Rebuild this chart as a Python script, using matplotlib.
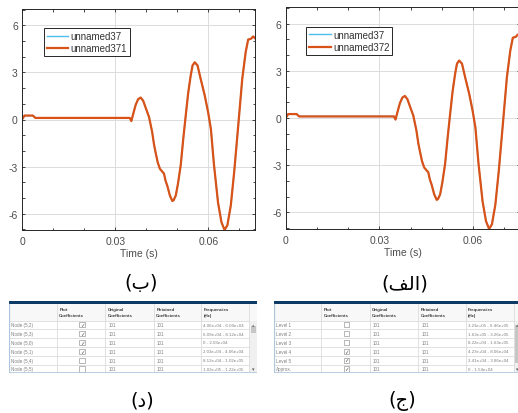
import matplotlib
matplotlib.use("Agg")
import matplotlib.pyplot as plt
from matplotlib.patches import Rectangle
from matplotlib.ticker import MultipleLocator

plt.rcParams['font.family'] = ['Liberation Sans', 'DejaVu Sans']
plt.rcParams['axes.unicode_minus'] = False

# ---------------- data ----------------
time_s = [0, 0.0008, 0.0035, 0.0043, 0.0347, 0.0352, 0.0358, 0.0366, 0.0374, 0.0382,
          0.0390, 0.0399, 0.0409, 0.0419, 0.0425, 0.0430, 0.0437, 0.0444, 0.0457, 0.0462,
          0.0468, 0.0476, 0.0484, 0.0488, 0.0495, 0.0502, 0.0511, 0.0519, 0.0527, 0.0535,
          0.0543, 0.0549, 0.0556, 0.0565, 0.0575, 0.0588, 0.0599, 0.0608, 0.0618, 0.0631,
          0.0642, 0.0652, 0.0661, 0.0672, 0.0683, 0.0696, 0.0709, 0.0720, 0.0728, 0.0737,
          0.0744, 0.0752]
signal = [0, 0.25, 0.25, 0.10, 0.10, -0.10, 0.36, 0.94, 1.30, 1.40,
          1.20, 0.70, 0.15, -0.80, -1.60, -2.10, -2.75, -3.15, -3.45, -3.90,
          -4.25, -4.85, -5.20, -5.15, -4.85, -4.10, -2.90, -1.25, 0.25, 1.70,
          2.80, 3.45, 3.65, 3.45, 2.60, 1.55, 0.47, -0.60, -2.90, -5.30,
          -6.55, -7.05, -6.75, -5.50, -3.35, -0.40, 2.60, 4.30, 5.10, 5.15,
          5.30, 5.15]

legend_left = ['unnamed37', 'unnamed371']
legend_right = ['unnamed37', 'unnamed372']
x_ticks = [0, 0.03, 0.06]
x_tick_labels = ['0', '0.03', '0.06']
y_ticks = [-6, -3, 0, 3, 6]
y_tick_labels = ['-6', '-3', '0', '3', '6']
x_label = 'Time (s)'

# Persian captions written with Arabic presentation forms in visual order
caption_b = '(\uFE8F)'                    # (ب)
caption_alef = '(\uFED2\uFEDF\uFE8D)'     # (الف)
caption_d = '(\uFEA9)'                    # (د)
caption_j = '(\uFE9D)'                    # (ج)

table_headers = ['', 'Plot\nCoefficients', 'Original\nCoefficients',
                 'Retained\nCoefficients', 'Frequencies\n(Hz)']

left_rows = ['Node (5,2)', 'Node (5,3)', 'Node (5,0)', 'Node (5,1)', 'Node (5,4)', 'Node (5,5)']
left_checked = [True, True, True, True, False, False]
left_original = ['101', '101', '101', '101', '101', '101']
left_retained = ['101', '101', '101', '101', '101', '101']
left_freq = ['4.06e+04 - 6.09e+04', '6.09e+04 - 8.12e+04', '0 - 2.03e+04',
             '2.03e+04 - 4.06e+04', '8.12e+04 - 1.02e+05', '1.02e+05 - 1.22e+05']

right_rows = ['Level 1', 'Level 2', 'Level 3', 'Level 4', 'Level 5', 'Approx.']
right_checked = [False, False, False, True, True, True]
right_original = ['101', '101', '101', '101', '101', '101']
right_retained = ['101', '101', '101', '101', '101', '101']
right_freq = ['3.23e+05 - 6.46e+05', '1.63e+05 - 3.26e+05', '8.22e+04 - 1.63e+05',
              '4.23e+04 - 8.06e+04', '2.41e+04 - 3.86e+04', '0 - 1.54e+04']

# ---------------- figure ----------------
W, H = 518, 414
fig = plt.figure(figsize=(W / 100, H / 100), dpi=100)
fig.patch.set_facecolor('white')

BLUE = '#4DBEEE'
ORANGE = '#D95319'
FRAME = '#262626'
TICKC = '#4D4D4D'


def px_rect(x0, y0, w, h):
    return [x0 / W, 1 - (y0 + h) / H, w / W, h / H]


def make_plot(rect, names, leg_anchor):
    ax = fig.add_axes(rect)
    ax.plot(time_s, signal, color=BLUE, lw=1.0, label=names[0])
    ax.plot(time_s, signal, color=ORANGE, lw=1.6, label=names[1])
    ax.set_xlim(0, 0.075)
    ax.set_ylim(-7.05, 7.05)
    ax.set_xticks(x_ticks)
    ax.set_xticklabels(x_tick_labels)
    ax.set_yticks(y_ticks)
    ax.set_yticklabels(y_tick_labels)
    ax.xaxis.set_minor_locator(MultipleLocator(0.01))
    ax.yaxis.set_minor_locator(MultipleLocator(1))
    ax.grid(True, which='major', color='#DCDCDC', lw=0.7)
    ax.set_axisbelow(True)
    ax.tick_params(which='both', direction='in', top=True, right=True,
                   colors=FRAME, labelcolor=TICKC, labelsize=7.5, width=0.6)
    ax.tick_params(which='major', length=2.5)
    ax.tick_params(which='minor', length=1.8)
    ax.tick_params(axis='x', pad=4)
    ax.tick_params(axis='y', pad=3)
    for s in ax.spines.values():
        s.set_color(FRAME)
        s.set_linewidth(0.7)
    ax.set_xlabel(x_label, fontsize=7.5, color=TICKC, labelpad=1.5)
    leg = ax.legend(loc='upper left', bbox_to_anchor=leg_anchor, fontsize=7,
                    frameon=True, fancybox=False, framealpha=1, edgecolor=FRAME,
                    handlelength=2.2, handletextpad=0.25, borderpad=0.3,
                    labelspacing=0.25, borderaxespad=0)
    leg.get_frame().set_linewidth(0.7)
    for t in leg.get_texts():
        t.set_color('#333333')
    return ax


make_plot(px_rect(22, 10, 233, 221), legend_left, (0.095, 0.914))
make_plot(px_rect(285.7, 8, 234, 222), legend_right, (0.088, 0.91))

# captions
cap_kw = dict(ha='center', va='center', fontsize=14, family=['DejaVu Sans'], color='black')
fig.text(141 / W, 1 - 284 / H, caption_b, **cap_kw)
fig.text(405 / W, 1 - 284 / H, caption_alef, **cap_kw)
fig.text(142 / W, 1 - 401 / H, caption_d, **cap_kw)
fig.text(402 / W, 1 - 401 / H, caption_j, **cap_kw)

# ---------------- tables ----------------
col_w = [47.5, 48.5, 48.5, 47.5, 48, 8]
bar_h = 2.5
head_h = 17
row_h = 8.8
GRID = '#DCDCDC'
TXT = '#808080'


def make_table(x0, y0, rows, checked, orig, ret, freq, thumb):
    total_w = sum(col_w)
    total_h = bar_h + head_h + row_h * len(rows)
    ax = fig.add_axes(px_rect(x0, y0, total_w, total_h))
    ax.set_xlim(0, total_w)
    ax.set_ylim(total_h, 0)
    ax.axis('off')
    edges = [0]
    for w in col_w:
        edges.append(edges[-1] + w)
    ax.add_patch(Rectangle((0, 0), total_w, total_h, fc='white', ec='none'))
    ax.add_patch(Rectangle((0, bar_h), total_w, head_h, fc='#F8F8F8', ec='none'))
    ax.add_patch(Rectangle((0, 0), total_w, bar_h, fc='#0E3A66', ec='none'))
    ax.add_patch(Rectangle((edges[5], bar_h + head_h), col_w[5], row_h * len(rows),
                           fc='#F0F0F0', ec='none'))
    ax.add_patch(Rectangle((edges[5] + 1.2, thumb[0]), col_w[5] - 2.4, thumb[1] - thumb[0],
                           fc='#C6C6C6', ec='none'))
    ax.text(edges[5] + col_w[5] / 2, bar_h + head_h + row_h * 0.5, '\u25B4', fontsize=3.5,
            ha='center', va='center', color='#777777', family=['DejaVu Sans'])
    ax.text(edges[5] + col_w[5] / 2, total_h - row_h * 0.5, '\u25BE', fontsize=3.5,
            ha='center', va='center', color='#555555', family=['DejaVu Sans'])
    for e in edges[1:-1]:
        ax.plot([e, e], [bar_h, total_h], color=GRID, lw=0.6)
    for i in range(len(rows) + 1):
        y = bar_h + head_h + i * row_h
        ax.plot([0, edges[5]], [y, y], color=GRID, lw=0.6)
    ax.plot([0, 0], [bar_h, total_h], color='#AFC6DE', lw=0.9)
    ax.plot([0, total_w], [total_h, total_h], color='#AFC6DE', lw=1.2)
    for j, h in enumerate(table_headers):
        if h:
            ax.text(edges[j] + 2.5, bar_h + head_h / 2, h, fontsize=3.2, fontweight='bold',
                    ha='left', va='center', color='#404040', linespacing=1.35)
    for i, name in enumerate(rows):
        yc = bar_h + head_h + (i + 0.5) * row_h
        ax.text(2, yc, name, fontsize=3.3, ha='left', va='center', color=TXT)
        cx = edges[1] + col_w[1] / 2 + 1
        ax.add_patch(Rectangle((cx - 2.6, yc - 2.6), 5.2, 5.2, fc='white', ec='#9A9A9A', lw=0.5))
        if checked[i]:
            ax.text(cx, yc, '\u2713', fontsize=4, ha='center', va='center',
                    color='#555555', family=['DejaVu Sans'])
        ax.text(edges[2] + 3, yc, orig[i], fontsize=3.3, ha='left', va='center', color=TXT)
        ax.text(edges[3] + 3, yc, ret[i], fontsize=3.3, ha='left', va='center', color=TXT)
        ax.text(edges[4] + 2, yc, freq[i], fontsize=3.2, ha='left', va='center', color=TXT)
    return ax


make_table(9.3, 302, left_rows, left_checked, left_original, left_retained, left_freq,
           (25, 32))
make_table(273.7, 302, right_rows, right_checked, right_original, right_retained, right_freq,
           (24, 62))

fig.savefig('out.png', dpi=100, facecolor='white')
